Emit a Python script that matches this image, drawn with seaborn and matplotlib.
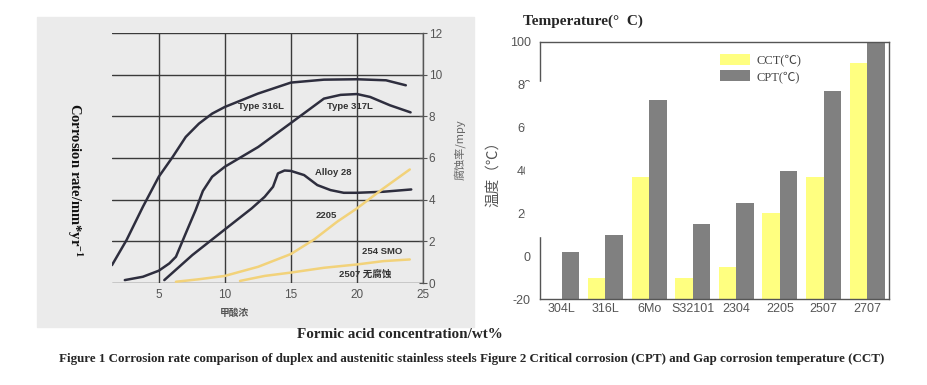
import numpy as np
import pandas as pd
import matplotlib
matplotlib.use("Agg")
import matplotlib.pyplot as plt
from matplotlib.patches import Rectangle, Patch
from matplotlib.ticker import MultipleLocator
import seaborn as sns

# ---- data: left panel (corrosion rate vs formic acid concentration) ----
x_316l = [1.46, 2.56, 3.80, 5.0, 6.05, 7.04, 8.04, 9.04, 10.0, 12.5, 15.0, 17.5, 20.0, 22.2, 23.7]
y_316l = [0.86, 2.06, 3.66, 5.10, 6.05, 7.01, 7.65, 8.13, 8.45, 9.09, 9.62, 9.76, 9.78, 9.73, 9.49]

x_317l = [2.43, 3.80, 5.0, 5.80, 6.30, 7.04, 7.79, 8.34, 9.04, 10.0, 12.53, 15.0, 17.5, 18.76, 20.0, 21.0, 22.5, 24.06]
y_317l = [0.14, 0.30, 0.59, 0.94, 1.26, 2.38, 3.50, 4.42, 5.10, 5.58, 6.53, 7.68, 8.85, 9.03, 9.07, 8.93, 8.53, 8.19]

x_alloy28 = [5.42, 7.54, 10.0, 12.03, 13.02, 13.65, 14.02, 14.52, 15.0, 16.0, 17.0, 18.0, 19.0, 20.0, 22.0, 24.11]
y_alloy28 = [0.14, 1.34, 2.57, 3.58, 4.14, 4.62, 5.26, 5.40, 5.38, 5.18, 4.70, 4.46, 4.33, 4.33, 4.38, 4.49]

x_2205 = [6.30, 8.04, 10.0, 12.53, 15.0, 16.76, 18.5, 20.0, 22.0, 24.0]
y_2205 = [0.06, 0.18, 0.34, 0.78, 1.39, 2.09, 2.94, 3.58, 4.54, 5.45]

x_2507 = [11.15, 13.02, 15.0, 17.5, 20.0, 22.0, 24.0]
y_2507 = [0.10, 0.34, 0.50, 0.73, 0.89, 1.05, 1.13]

curve_labels = ["Type 316L", "Type 317L", "Alloy 28", "2205", "254 SMO", "2507 无腐蚀"]
label_x = [12.77, 19.43, 18.18, 17.71, 21.92, 20.62]
label_y = [8.45, 8.45, 5.30, 3.26, 1.53, 0.43]

# ---- data: right panel (CCT / CPT) ----
alloys = ["304L", "316L", "6Mo", "S32101", "2304", "2205", "2507", "2707"]
cct = [-20, -10, 37, -10, -5, 20, 37, 90]
cpt = [2, 10, 73, 15, 25, 40, 77, 100]
tests = ["CCT(℃)", "CPT(℃)"]
bar_colors = ["#FFFF80", "#808080"]
base = -20

W, H = 928, 385
fig = plt.figure(figsize=(W / 100, H / 100), dpi=100)
sns.set_style("white")
plt.rcParams["font.family"] = ["DejaVu Sans", "Noto Sans CJK SC"]
plt.rcParams["mathtext.fontset"] = "stix"
plt.rcParams["axes.unicode_minus"] = False

def fx(px):
    return px / W

def fy(py):
    return 1 - py / H

# gray background of the left picture
fig.add_artist(Rectangle((fx(37), fy(327)), (474 - 37) / W, (327 - 17) / H,
                         transform=fig.transFigure, color="#EBEBEB", zorder=-5))

# ---------------- left panel ----------------
ax1 = fig.add_axes([fx(112), fy(283), 311 / W, 250 / H])
ax1.set_facecolor("none")
dark = "#2E2E3E"
gold = "#F2D27A"
curves = [(x_316l, y_316l, dark), (x_317l, y_317l, dark), (x_alloy28, y_alloy28, dark),
          (x_2205, y_2205, gold), (x_2507, y_2507, gold)]
for xs, ys, c in curves:
    sns.lineplot(x=xs, y=ys, color=c, linewidth=1.8, ax=ax1, legend=False)

for t, lx, ly in zip(curve_labels, label_x, label_y):
    ax1.text(lx, ly, t, fontsize=6.8, fontweight="bold", color="#333333", ha="center", va="center",
             family=["Liberation Sans", "Noto Sans CJK SC"])

ax1.set_xlim(1.46, 25)
ax1.set_ylim(0, 12)
ax1.set_xticks([5, 10, 15, 20, 25])
ax1.set_yticks(range(0, 13, 2))
ax1.grid(True, color="#3A3A3A", linewidth=1.0)
ax1.set_axisbelow(True)
for s in ["left", "top", "bottom"]:
    ax1.spines[s].set_visible(False)
ax1.spines["right"].set_color("#555555")
ax1.spines["right"].set_linewidth(1.0)
ax1.yaxis.tick_right()
ax1.tick_params(axis="y", direction="inout", length=6, color="#555555", labelsize=8.5,
                labelcolor="#555555", pad=1)
ax1.tick_params(axis="x", length=0, labelsize=8.5, labelcolor="#555555", pad=4)
for lab in ax1.get_xticklabels() + ax1.get_yticklabels():
    lab.set_family("Liberation Sans")

fig.text(fx(460), fy(150), "腐蚀率/mpy", rotation=90, fontsize=8, color="#666666",
         ha="center", va="center", family=["Noto Sans CJK SC", "DejaVu Sans"])
fig.text(fx(235), fy(313), "甲酸浓", fontsize=7, color="#555555", ha="center", va="center",
         family=["Noto Sans CJK SC"], fontweight="bold")
fig.text(fx(75), fy(180), "Corrosion rate/mm*yr$^{\\mathregular{-1}}$", rotation=-90, fontsize=10.5,
         fontweight="bold", ha="center", va="center", family="Liberation Serif", color="#111111")

# ---------------- right panel ----------------
ax2 = fig.add_axes([fx(540), fy(299), 349 / W, 257 / H])
bars = pd.DataFrame({
    "alloy": alloys * 2,
    "test": [tests[0]] * len(alloys) + [tests[1]] * len(alloys),
    "value": cct + cpt,
})
bars["height"] = bars["value"] - base
sns.barplot(data=bars, x="alloy", y="height", hue="test", order=alloys,
            hue_order=tests, palette=bar_colors, saturation=1, width=0.8, errorbar=None,
            linewidth=0, bottom=base, legend=False, ax=ax2)
ax2.set_xlim(-0.5, 7.5)
ax2.set_ylim(-20, 100)
ax2.set_yticks(range(-20, 101, 20))
ax2.yaxis.set_minor_locator(MultipleLocator(10))
ax2.set_xlabel("")
ax2.set_ylabel("")
for s in ax2.spines.values():
    s.set_color("#555555")
    s.set_linewidth(1.0)
ax2.tick_params(axis="y", which="major", direction="out", length=3, color="#555555",
                labelsize=9, labelcolor="#555555", pad=3.5)
ax2.tick_params(axis="y", which="minor", direction="out", length=2, color="#555555")
ax2.tick_params(axis="x", length=0, labelsize=9, labelcolor="#555555", pad=3)
for lab in ax2.get_xticklabels() + ax2.get_yticklabels():
    lab.set_family("Liberation Sans")

handles = [Patch(facecolor=c, edgecolor="none") for c in bar_colors]
ax2.legend(handles, tests, loc="upper left", bbox_to_anchor=(fx(720), fy(54)),
           bbox_transform=fig.transFigure, frameon=False, borderpad=0, borderaxespad=0,
           handlelength=2.4, handleheight=0.95, labelspacing=0.3, handletextpad=0.55,
           prop={"family": ["Liberation Serif", "Noto Sans CJK SC"], "size": 9},
           labelcolor="#444444")

# white patch hiding part of the left axis (as in the source picture)
fig.add_artist(Rectangle((fx(525), fy(236)), 30 / W, (236 - 82) / H,
                         transform=fig.transFigure, color="white", zorder=10))

fig.text(fx(493), fy(170), "温度（℃）", rotation=90, fontsize=10.5, color="#555555",
         ha="center", va="center", family=["Noto Sans CJK SC"])
fig.text(fx(523), fy(21), "Temperature(°  C)", fontsize=11, fontweight="bold",
         ha="left", va="center", family="Liberation Serif")

# ---------------- captions ----------------
fig.text(fx(400), fy(334), "Formic acid concentration/wt%", fontsize=10.9, fontweight="bold",
         ha="center", va="center", family="Liberation Serif")
fig.text(fx(472), fy(359), "Figure 1 Corrosion rate comparison of duplex and austenitic stainless steels "
         "Figure 2 Critical corrosion (CPT) and Gap corrosion temperature (CCT)",
         fontsize=9.4, fontweight="bold", ha="center", va="center", family="Liberation Serif")

fig.savefig("out.png", dpi=100)
